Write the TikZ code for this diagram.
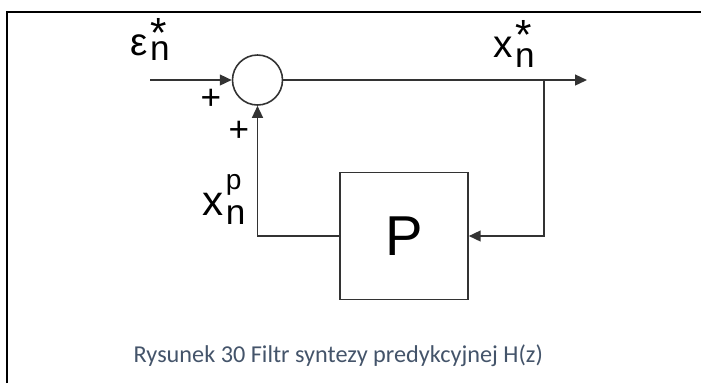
\documentclass[tikz,border=0pt]{standalone}
\usepackage{fontspec}
\setmainfont{Liberation Sans}
\newfontfamily\capfont{Carlito}
\usetikzlibrary{arrows.meta}
\definecolor{capblue}{HTML}{44546A}

% index size and a signal name with upper and lower index
\newcommand{\idx}{\fontsize{10}{10}\selectfont}
\newcommand{\sigl}[6]{{\fontsize{#1}{#1}\selectfont #2}\kern0.6pt\rlap{\raisebox{#4}{\idx #3}}\raisebox{-#6}{\idx #5}}
\newcommand{\bigast}{\fontsize{12}{12}\selectfont *}

\begin{document}
\begin{tikzpicture}[
    line/.style={draw=black!80, line width=0.45pt},
    arrow/.style={line, -{Triangle[length=3.4pt,width=3.1pt]}},
    sum/.style={
        circle,
        line,
        minimum size=0.5cm,
        inner sep=0pt
    },
    block/.style={
        rectangle,
        line,
        minimum width=1.28cm,
        minimum height=1.27cm,
        font=\fontsize{16}{16}\selectfont
    },
    sign/.style={font=\fontsize{10}{10}\selectfont, inner sep=0pt},
    sig/.style={anchor=base west, inner sep=0pt}
]
\useasboundingbox (0,0) rectangle (7.01,-3.83);

% frame
\draw [line width=0.6pt] (0.07,-3.83) -- (0.07,-0.12) -- (7.01,-0.12);

\node (sum) [sum] at (2.575,-0.80) {};
\node (pred) [block] at (4.04,-2.36) {P};

\coordinate (in) at (1.50,-0.80);
\coordinate (out) at (5.87,-0.80);
\coordinate (tap) at (5.44,-0.80);

\node (eps) [sig] at (1.30,-0.55) {\sigl{11}{ε}{\bigast}{2.2pt}{n}{1.5pt}};
\node (xout) [sig] at (4.93,-0.57) {\sigl{11}{x}{\bigast}{2.2pt}{n}{3.1pt}};
\node (xpred) [sig] at (2.02,-2.15) {\sigl{12}{x}{\fontsize{8}{8}\selectfont p}{7.3pt}{n}{2.8pt}};

\node (plusa) [sign] at (2.11,-0.99) {+};
\node (plusb) [sign] at (2.39,-1.31) {+};

\draw [arrow] (in) -- (sum.west);
\draw [arrow] (sum.east) -- (out);
\draw [arrow] (tap) |- (pred.east);
\draw [arrow] (pred.west) -| (sum.south);

\node (caption) [anchor=base west, inner sep=0pt, text=capblue,
    font=\capfont\fontsize{6.9}{8}\selectfont] at (1.33,-3.62)
    {Rysunek 30 Filtr syntezy predykcyjnej H(z)};

\end{tikzpicture}
\end{document}
